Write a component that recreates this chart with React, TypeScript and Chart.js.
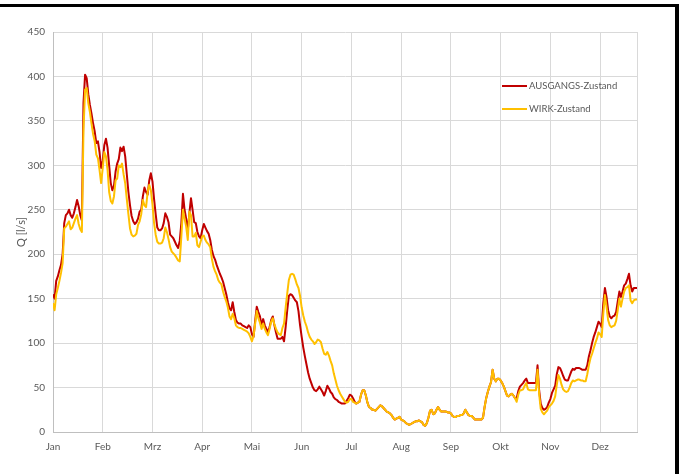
import React, { useEffect, useRef } from "react";
import { Chart, registerables } from "chart.js";

Chart.register(...registerables);

// ---- data ----
const months = ["Jan", "Feb", "Mrz", "Apr", "Mai", "Jun", "Jul", "Aug", "Sep", "Okt", "Nov", "Dez"];
const monthStep = 31; // categories per labelled tick
const yMin = 0;
const yMax = 450;
const yStep = 50;
const yAxisTitle = "Q [l/s]";
const seriesLabels = ["AUSGANGS-Zustand", "WIRK-Zustand"];

const ausgangsZustand = [
  155, 150, 170, 175, 182, 188, 200, 235, 244, 246,
  250, 244, 241, 246, 253, 261, 254, 244, 238, 370,
  402, 398, 380, 368, 358, 347, 338, 325, 327, 315,
  297, 305, 323, 330, 320, 300, 280, 272, 277, 293,
  302, 307, 320, 316, 321, 310, 290, 270, 255, 243,
  237, 234, 236, 240, 248, 250, 265, 275, 270, 267,
  283, 291, 282, 262, 245, 230, 227, 227, 229, 235,
  246, 242, 236, 222, 220, 218, 214, 210, 207, 215,
  235, 268, 250, 240, 227, 246, 263, 250, 236, 235,
  225, 220, 218, 227, 234, 230, 226, 223, 216, 205,
  198, 194, 188, 183, 178, 174, 169, 162, 155, 146,
  139, 137, 146, 135, 126, 123, 122, 122, 120, 119,
  118, 117, 120, 118, 110, 107, 125, 141, 135, 130,
  120, 127, 120, 116, 112, 118, 126, 130, 120, 112,
  105, 105, 105, 107, 102, 118, 137, 153, 155, 154,
  151, 148, 146, 136, 120, 107, 95, 85, 76, 67,
  60, 55, 50, 47, 46, 48, 51, 48, 45, 41,
  46, 52, 49, 45, 43, 39, 37, 36, 34, 33,
  32, 32, 32, 35, 38, 42, 41, 38, 34, 32,
  33, 34, 42, 47, 47, 41, 33, 28, 27, 25,
  25, 24, 26, 28, 30, 29, 27, 25, 23, 22,
  21, 19, 16, 14, 15, 16, 17, 14, 13, 12,
  10, 9, 8, 9, 10, 11, 12, 12, 13, 12,
  11, 8, 7, 10, 16, 24, 25, 20, 21, 25,
  28, 25, 23, 23, 23, 23, 22, 22, 21, 18,
  17, 17, 18, 18, 19, 19, 21, 25, 22, 19,
  18, 18, 16, 14, 14, 14, 14, 14, 16, 28,
  38, 45, 51, 56, 70, 60, 57, 60, 60, 58,
  55, 51, 46, 41, 40, 42, 43, 41, 38, 38,
  46, 51, 53, 55, 58, 60, 55, 55, 55, 55,
  55, 55, 75, 47, 32, 27, 25, 26, 28, 33,
  37, 44, 48, 52, 65, 73, 72, 68, 63, 59,
  58, 58, 63, 68, 71, 70, 72, 72, 72, 71,
  70, 70, 70, 75, 85, 92, 100, 107, 112, 118,
  124, 122, 118, 145, 162, 152, 137, 130, 128, 130,
  131, 135, 147, 158, 152, 158, 165, 167, 172, 178,
  165, 158, 162, 162, 162,
];

const wirkZustand = [
  145, 137, 155, 162, 170, 179, 190, 229, 231, 234,
  237, 228, 230, 235, 240, 244, 234, 228, 225, 340,
  385, 387, 370, 360, 347, 335, 327, 312, 308, 295,
  280, 297, 315, 310, 295, 270, 260, 257, 265, 283,
  285, 300, 298, 302, 290, 280, 262, 245, 229, 222,
  220, 221, 223, 233, 237, 245, 261, 255, 253, 270,
  278, 272, 256, 235, 222, 214, 212, 212, 213, 218,
  230, 225, 217, 208, 203, 201, 199, 196, 193, 192,
  220, 250, 240, 231, 216, 248, 244, 220, 220, 224,
  210, 208, 214, 220, 221, 216, 213, 211, 208, 195,
  186, 181, 177, 171, 168, 166, 158, 152, 147, 140,
  130, 127, 133, 128, 120, 118, 117, 117, 116, 115,
  114, 113, 111, 107, 102, 108, 122, 136, 128, 123,
  116, 122, 116, 112, 109, 116, 124, 128, 121, 116,
  112, 110, 109, 117, 122, 140, 156, 171, 177, 178,
  177, 172, 166, 162, 153, 140, 131, 124, 119, 112,
  107, 104, 102, 99, 101, 104, 103, 101, 94, 88,
  87, 90, 86, 80, 75, 66, 59, 52, 47, 43,
  40, 37, 34, 33, 34, 37, 37, 34, 33, 32,
  33, 34, 42, 47, 47, 41, 33, 28, 27, 25,
  25, 24, 26, 28, 30, 29, 27, 25, 23, 22,
  21, 19, 16, 14, 15, 16, 17, 14, 13, 12,
  10, 9, 8, 9, 10, 11, 12, 12, 13, 12,
  11, 8, 7, 10, 16, 24, 25, 20, 21, 25,
  28, 25, 23, 23, 23, 23, 22, 22, 21, 18,
  17, 17, 18, 18, 19, 19, 21, 25, 22, 19,
  18, 18, 16, 14, 14, 14, 14, 14, 16, 28,
  38, 45, 51, 56, 70, 60, 57, 60, 60, 58,
  55, 51, 46, 41, 40, 42, 43, 41, 38, 34,
  42, 47, 47, 48, 52, 55, 48, 47, 47, 47,
  47, 47, 70, 43, 26, 22, 20, 22, 24, 28,
  30, 32, 35, 40, 53, 64, 60, 53, 48, 46,
  45, 46, 50, 55, 58, 57, 58, 59, 59, 58,
  58, 57, 57, 65, 75, 83, 88, 94, 100, 105,
  112, 110, 107, 133, 154, 141, 126, 120, 118, 119,
  120, 125, 137, 150, 141, 150, 158, 162, 163, 165,
  148, 145, 148, 149, 149,
];

// ---- styles ----
const RED = "#C00000";
const YELLOW = "#FFC000";
const TEXT = "#595959";
const GRID = "#d9d9d9";
const AXIS = "#bfbfbf";
const FONT = "Lato, 'Open Sans', sans-serif";

const insideLegend = {
  id: "insideLegend",
  afterDraw(chart: any) {
    const ctx = chart.ctx as CanvasRenderingContext2D;
    const items = [
      { label: seriesLabels[0], color: RED, y: 86 },
      { label: seriesLabels[1], color: YELLOW, y: 109 },
    ];
    ctx.save();
    for (const it of items) {
      ctx.strokeStyle = it.color;
      ctx.lineWidth = 2;
      ctx.beginPath();
      ctx.moveTo(502, it.y);
      ctx.lineTo(527, it.y);
      ctx.stroke();
      ctx.fillStyle = TEXT;
      ctx.font = `9.5px ${FONT}`;
      ctx.textAlign = "left";
      ctx.textBaseline = "middle";
      ctx.fillText(it.label, 529, it.y);
    }
    ctx.restore();
  },
};

export default function App() {
  const canvasRef = useRef<HTMLCanvasElement | null>(null);

  useEffect(() => {
    if (!canvasRef.current) return;
    const lastIndex = ausgangsZustand.length - 1;
    const chart = new Chart(canvasRef.current, {
      type: "line",
      data: {
        datasets: [
          {
            label: seriesLabels[0],
            data: ausgangsZustand.map((v, i) => ({ x: i, y: v })),
            borderColor: RED,
            backgroundColor: RED,
            borderWidth: 2,
            pointRadius: 0,
            tension: 0,
            borderJoinStyle: "round",
            order: 1,
          },
          {
            label: seriesLabels[1],
            data: wirkZustand.map((v, i) => ({ x: i, y: v })),
            borderColor: YELLOW,
            backgroundColor: YELLOW,
            borderWidth: 2,
            pointRadius: 0,
            tension: 0,
            borderJoinStyle: "round",
            order: 0,
          },
        ],
      },
      options: {
        animation: false,
        responsive: false,
        devicePixelRatio: 1,
        events: [],
        layout: { padding: { top: 32, right: 45, left: 0, bottom: 0 } },
        plugins: {
          legend: { display: false },
          tooltip: { enabled: false },
        },
        scales: {
          x: {
            type: "linear",
            min: 0,
            max: lastIndex,
            afterBuildTicks: (scale: any) => {
              scale.ticks = months
                .map((_, k) => ({ value: k * monthStep }))
                .concat([{ value: lastIndex }]);
            },
            afterFit: (scale: any) => {
              scale.height = 42;
            },
            ticks: {
              autoSkip: false,
              maxRotation: 0,
              minRotation: 0,
              padding: 9,
              color: TEXT,
              font: { family: FONT, size: 10 },
              callback: (value: any) =>
                Number(value) % monthStep === 0 ? months[Number(value) / monthStep] : "",
            },
            grid: { color: GRID, lineWidth: 1, drawTicks: false },
            border: { color: AXIS, width: 1 },
          },
          y: {
            min: yMin,
            max: yMax,
            afterFit: (scale: any) => {
              scale.width = 53;
            },
            ticks: {
              stepSize: yStep,
              padding: 8,
              color: TEXT,
              font: { family: FONT, size: 10 },
            },
            grid: { color: GRID, lineWidth: 1, drawTicks: false },
            border: { color: AXIS, width: 1 },
            title: {
              display: true,
              text: yAxisTitle,
              color: TEXT,
              font: { family: FONT, size: 11 },
              padding: { top: 15, bottom: 0 },
            },
          },
        },
      },
      plugins: [insideLegend],
    });
    return () => chart.destroy();
  }, []);

  return (
    <div
      style={{
        position: "fixed",
        left: 0,
        top: 0,
        width: 682,
        height: 474,
        background: "#ffffff",
        overflow: "hidden",
      }}
    >
      <canvas ref={canvasRef} width={682} height={474} style={{ display: "block" }} />
      <div style={{ position: "absolute", left: 0, top: 4, width: 679, height: 3, background: "#000" }} />
      <div style={{ position: "absolute", left: 675, top: 4, width: 4, height: 470, background: "#000" }} />
    </div>
  );
}
